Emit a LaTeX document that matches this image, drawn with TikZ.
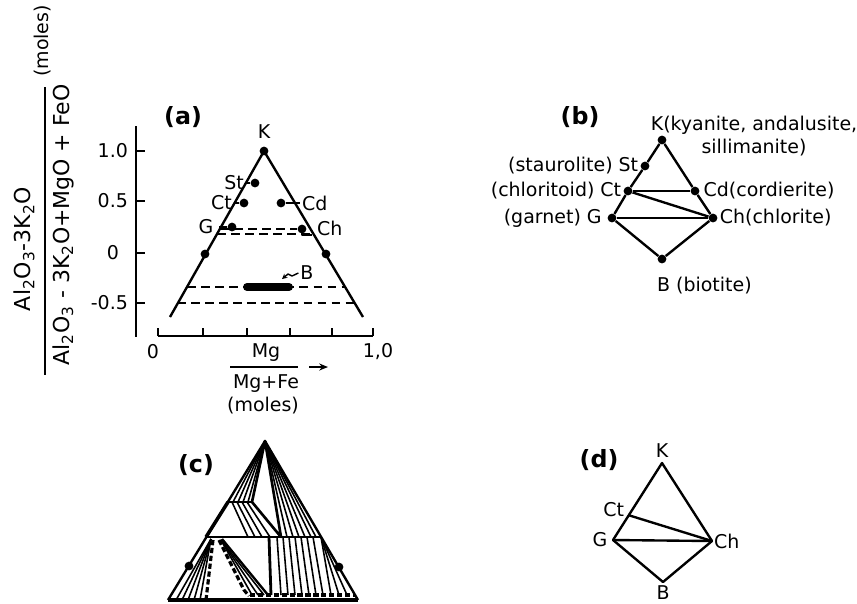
\documentclass[tikz,border=0pt]{standalone}
\usepackage{fontspec}
\setmainfont{DejaVu Sans}
\usetikzlibrary{positioning,calc,arrows.meta}

\tikzset{
  phase/.style={circle,fill=black,inner sep=0pt,minimum size=5pt},
  lbl/.style={font=\fontsize{10.8}{13}\selectfont,inner sep=1pt},
  bigl/.style={font=\fontsize{12.5}{15}\selectfont,inner sep=1pt},
  paneltag/.style={font=\fontsize{13.5}{15}\selectfont\bfseries,inner sep=0pt},
  tie/.style={line width=1.35pt},
  hatch/.style={line width=0.9pt},
  tiedash/.style={line width=1pt,dash pattern=on 5pt off 3pt},
  cdash/.style={line width=1.8pt,dash pattern=on 3pt off 1.5pt},
}

\begin{document}
\begin{tikzpicture}[x=0.02cm,y=-0.02cm,line join=round]
\useasboundingbox (0,0) rectangle (857,603);

% (a) composition plot
\node[paneltag] (taga) at (183,117) {(a)};
\node[bigl,rotate=90] (ynum) at (24,249) {Al\textsubscript{2}O\textsubscript{3}-3K\textsubscript{2}O};
\draw[tie] (45,87) -- (45,375);
\node[bigl,rotate=90] (yden) at (63,225) {Al\textsubscript{2}O\textsubscript{3} - 3K\textsubscript{2}O+MgO + FeO};
\node[lbl,rotate=90] (ymol) at (43,41) {(moles)};

\draw[tie] (136,126) -- (136,337);
\foreach \y/\t in {151/1.0,201/0.5,303/-0.5} {
  \draw[tie] (136,\y) -- (145,\y);
  \node[lbl,anchor=east] (yt\y) at (130,\y) {\t};
}
\draw[tie] (136,253) -- (145,253);
\node[lbl] (yt253) at (113,253) {0};

\draw[tie] (158,336) -- (373,336);
\foreach \x in {158,203,247,290,332,373}
  \draw[tie] (\x,336) -- (\x,328);
\node[lbl] (xt0) at (153,352) {0};
\node[lbl] (xt1) at (378,352) {1,0};
\node[lbl] (mg) at (266,353) {Mg};
\draw[tie] (230,367) -- (298,367);
\node[lbl] (mgfe) at (266,384) {Mg+Fe};
\node[lbl] (xmol) at (263,406) {(moles)};
\draw[tie,-{Stealth[length=5pt,width=4pt]}] (309,367) -- (328,367);

\node[phase] (aK) at (264,151) {};
\coordinate (aL) at (170,317);
\coordinate (aR) at (363,317);
\draw[tie] (aL) -- (aK.center) -- (aR);
\node[lbl,above=3pt of aK] (aKl) {K};
\node[phase] (aZl) at (205,254) {};
\node[phase] (aZr) at (326,254) {};

\node[phase] (aSt) at (255,183) {};
\node[phase] (aCt) at (244,203) {};
\node[phase] (aG) at (232,227) {};
\node[phase] (aCd) at (281,203) {};
\node[phase] (aCh) at (302,229) {};
\coordinate (aStE) at (246,183);
\coordinate (aCtE) at (234,203);
\coordinate (aGE) at (219,227);
\coordinate (aCdE) at (300,203);
\coordinate (aChE) at (315,228);
\draw[tie] (aSt) -- (aStE);
\draw[tie] (aCt) -- (aCtE);
\draw[tie] (aG) -- (aGE);
\draw[tie] (aCd) -- (aCdE);
\node[lbl,left=0pt of aStE] (aStl) {St};
\node[lbl,left=0pt of aCtE] (aCtl) {Ct};
\node[lbl,left=2pt of aGE] (aGl) {G};
\node[lbl,right=0pt of aCdE] (aCdl) {Cd};
\node[lbl,right=0pt of aChE] (aChl) {Ch};
\draw[tie] (aCh) -- ++(0,6) -- ++(10,0);

\draw[tiedash] (220,229) -- (aCh);
\draw[tiedash] (217,234) -- (313,234);
\draw[tiedash] (187,287) -- (346,287);
\draw[tiedash] (177,303) -- (355,303);
\draw[line width=4.5pt,line cap=round] (247,287) -- (289,287);
\node[lbl] (aBl) at (307,273) {B};
\draw[line width=0.8pt,-{Stealth[length=3pt,width=3pt]}] (aBl.west) -- (292,276) -- (288,274) -- (282,279);

% (b) tie-line sketch
\node[paneltag] (tagb) at (580,117) {(b)};
\node[phase] (bK) at (662,140) {};
\node[phase] (bSt) at (645,166) {};
\node[phase] (bCt) at (628,191) {};
\node[phase] (bCd) at (695,191) {};
\node[phase] (bG) at (612,218) {};
\node[phase] (bCh) at (713,218) {};
\node[phase] (bB) at (662,259) {};
\draw[tie] (bK) -- (bSt) -- (bCt) -- (bG) -- (bB) -- (bCh) -- (bCd) -- (bK);
\draw[tie] (bCt) -- (bCd);
\draw[tie] (bCt) -- (bCh);
\draw[tie] (bG) -- (bCh);
\node[lbl,align=center] (bKl) at (754,136) {K(kyanite, andalusite,\\sillimanite)};
\node[lbl,left=0pt of bSt] (bStl) {(staurolite) St};
\node[lbl,left=0pt of bCt] (bCtl) {(chloritoid) Ct};
\node[lbl,left=2pt of bG] (bGl) {(garnet) G};
\node[lbl,right=1pt of bCd] (bCdl) {Cd(cordierite)};
\node[lbl,right=0pt of bCh] (bChl) {Ch(chlorite)};
\node[lbl,anchor=north west] (bBl) at (655,275) {B (biotite)};

% (c) fields with tie lines
\node[paneltag] (tagc) at (196,465) {(c)};
\coordinate (cK) at (265,441);
\coordinate (cL) at (168,600);
\coordinate (cR) at (358,600);
\draw[tie] (cL) -- (cK) -- (cR);
\draw[line width=1.8pt] (cL) -- (cR);
\node[phase] (cZl) at (189,566) {};
\node[phase] (cZr) at (339,567) {};
\coordinate (cP1) at (228,502);
\coordinate (cP2) at (252,502);
\coordinate (cQ1) at (206,537);
\coordinate (cQ2) at (321,537);
\coordinate (cP4) at (281,537);
\draw[tie] (cP1) -- (cP2);
\draw[tie] (cQ1) -- (cQ2);
\draw[line width=2pt] (cP1) -- (cQ1);
\draw[line width=1.5pt] (cK) -- (cP2) -- (cP4) -- cycle;
\foreach \x in {233,238,243,248}
  \draw[hatch] (cK) -- (\x,502);
\foreach \x in {287,293,299,305,311,316}
  \draw[hatch] (cK) -- (\x,537);
\foreach \a/\b in {232/248,237/255,242/262,247/270}
  \draw[hatch] (\a,502) -- (\b,537);
\coordinate (cJ) at (211,539);
\foreach \x in {176,182,188,194,200}
  \draw[hatch] (cJ) -- (\x,600);
\draw[cdash] (213,540) -- (206,600);
\draw[cdash] (219,540) -- (244,590) -- (249,596);
\foreach \x in {252,258,264}
  \draw[hatch] (221,540) -- (\x,595);
\draw[tie] (222,539) -- (268,595);
\draw[cdash] (250,595) -- (355,595);
\draw[line width=1.6pt] (269,537) -- (271,595);
\foreach \i in {0,...,6}
  \draw[hatch] (277+6*\i,537) -- (281+7*\i,595);
\foreach \b in {331,339,347}
  \draw[hatch] (cQ2) -- (\b,595);

% (d) reduced sketch
\node[paneltag] (tagd) at (599,460) {(d)};
\coordinate (dK) at (662,463);
\coordinate (dCt) at (628,515);
\coordinate (dG) at (613,540);
\coordinate (dCh) at (712,541);
\coordinate (dB) at (663,582);
\draw[tie] (dK) -- (dG) -- (dB) -- (dCh) -- cycle;
\draw[tie] (dCt) -- (dCh);
\draw[tie] (dG) -- (dCh);
\node[lbl,above=2pt of dK] (dKl) {K};
\node[lbl,left=1pt of dCt,yshift=3pt] (dCtl) {Ct};
\node[lbl,left=2pt of dG] (dGl) {G};
\node[lbl,right=0pt of dCh] (dChl) {Ch};
\node[lbl,below=1pt of dB] (dBl) {B};
\end{tikzpicture}
\end{document}
